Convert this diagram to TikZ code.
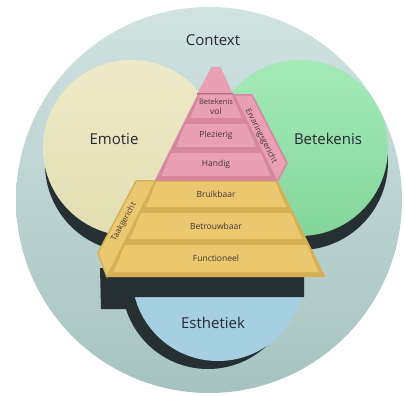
\documentclass[tikz,border=0pt]{standalone}
\usepackage{fontspec}
\setmainfont{Open Sans}
\usetikzlibrary{calc}
\definecolor{ctxtop}{RGB}{208,227,225}
\definecolor{ctxbot}{RGB}{166,195,192}
\definecolor{emotop}{RGB}{238,234,200}
\definecolor{emobot}{RGB}{226,222,178}
\definecolor{bettop}{RGB}{164,234,184}
\definecolor{betbot}{RGB}{132,214,156}
\definecolor{esthfill}{RGB}{166,208,226}
\definecolor{dropshade}{RGB}{38,48,50}
\definecolor{pinkface}{RGB}{233,160,181}
\definecolor{pinkedge}{RGB}{214,134,158}
\definecolor{yelface}{RGB}{234,200,112}
\definecolor{yeledge}{RGB}{214,176,86}
\definecolor{ink}{RGB}{38,40,52}
\definecolor{layerink}{RGB}{70,52,48}
\tikzset{every picture/.style={x=1pt,y=-1pt},
  biglbl/.style={text=ink,font=\fontsize{15}{17}\selectfont},
  lbl/.style={text=layerink,font=\fontsize{8.5}{10}\selectfont,align=center},
  sidelbl/.style={text=layerink,font=\fontsize{8}{9}\selectfont}}

\begin{document}
\begin{tikzpicture}
\useasboundingbox (0,0) rectangle (405,396);

\shade[top color=ctxtop,bottom color=ctxbot] (209,200) circle (193);

% shadows under the discs
\fill[dropshade] (133,164) circle (88);
\fill[dropshade] (300,162) circle (88);
\shade[top color=emotop,bottom color=emobot] (131,148) circle (88);
\shade[top color=bettop,bottom color=betbot] (300,148) circle (88);
\fill[dropshade] (208,283) circle (86);
\fill[esthfill] (218,275) circle (86);

% shadow of the pyramid base
\fill[dropshade] (100,268) -- (304,268) -- (304,297) -- (134,297) -- (131,309) -- (101,309) -- cycle;

% side strips
\filldraw[fill=yelface,draw=yeledge,line width=1.5pt,line join=round] (136,181) -- (156,181) -- (107,277) -- (98,253) -- cycle;
\filldraw[fill=pinkface,draw=pinkedge,line width=1.5pt,line join=round] (233,95) -- (252,95) -- (287,163) -- (277,182) -- cycle;

% top of the pyramid
\fill[pinkface] (211.5,67) -- (220.5,67) -- (233,94) -- (197,94) -- cycle;
\draw[pinkedge!80!black,line width=1.5pt] (197,94) -- (233,94);

\foreach \t/\b/\fc/\ec/\txt/\nm in {94/123/pinkface/pinkedge/{\fontsize{7.5}{10}\selectfont Betekenis\\vol}/betvol,
  123/152/pinkface/pinkedge/Plezierig/plez, 152/181/pinkface/pinkedge/Handig/handig,
  181/212/yelface/yeledge/Bruikbaar/bruik, 212/244/yelface/yeledge/Betrouwbaar/betrouw,
  244/277/yelface/yeledge/Functioneel/funct} {
\pgfmathsetmacro\lt{0.5*\t-29}
\pgfmathsetmacro\lb{0.5*\b-29}
\fill[\ec] (216-\lt,\t) -- (216+\lt,\t) -- (216+\lb,\b) -- (216-\lb,\b) -- cycle;
\fill[\fc] (216-\lt+2,\t+1) -- (216+\lt-2,\t+1) -- (216+\lb-7,\b-5) -- (216-\lb+7,\b-5) -- cycle;
\node (\nm) at (216,{(\t+\b)/2-2}) [lbl] {\txt};
}

\node (taak) at (124,222) [sidelbl,rotate=61] {Taakgericht};
\node (ervaring) at (261,136) [sidelbl,rotate=-63] {Ervaringsgericht};

\node (context) at (213,40) [biglbl] {Context};
\node (emotie) at (114,139) [biglbl] {Emotie};
\node (betekenis) at (328,139) [biglbl] {Betekenis};
\node (esthetiek) at (213,323) [biglbl] {Esthetiek};

\end{tikzpicture}
\end{document}
